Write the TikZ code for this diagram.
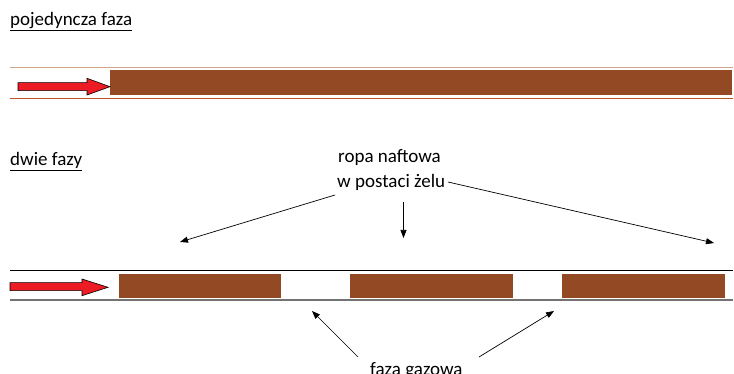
\documentclass[tikz,border=0pt]{standalone}
\usepackage{fontspec}
\setmainfont{Carlito}
\usetikzlibrary{arrows.meta}
\definecolor{oil}{RGB}{147,73,35}
\definecolor{oilpale}{RGB}{210,165,140}
\definecolor{oilline}{RGB}{185,85,35}
\definecolor{flowred}{RGB}{237,28,36}
\tikzset{
  lbl/.style={inner sep=0pt, anchor=base west, font=\fontsize{19}{22}\selectfont},
  flow/.style={fill=flowred, draw=black, line width=0.6pt, line join=miter},
  pointer/.style={-{Triangle[length=8pt,width=6pt]}, line width=0.7pt, black},
}
\begin{document}
\begin{tikzpicture}[x=1pt,y=-1pt]
\useasboundingbox (0,0) rectangle (734,374);

% --- single phase ---
\node[lbl] (t1) at (10,26) {\underline{pojedyncza faza}};
\draw[oilpale, line width=1.3pt] (10,67.5) -- (733,67.5);
\draw[oilline, line width=1.2pt] (10,98.3) -- (733,98.3);
\fill[oil] (110,70) rectangle (732,95);
\filldraw[flow] (18,82.7) -- (87,82.7) -- (87,78.3) -- (110,86.7) -- (87,95) -- (87,90.7) -- (18,90.7) -- cycle;

% --- two phases ---
\node[lbl] (t2) at (10,166) {\underline{dwie fazy}};
\draw[black, line width=1pt] (10,270.7) -- (733,270.7);
\draw[black!55, line width=1.6pt] (10,300) -- (733,300);
\fill[oil] (118.5,274) rectangle (281,298.5);
\fill[oil] (350,274) rectangle (512.5,298.5);
\fill[oil] (562,274) rectangle (725,298.5);
\filldraw[flow] (10,282.7) -- (82,282.7) -- (82,279) -- (108,287.3) -- (82,295.7) -- (82,290.7) -- (10,290.7) -- cycle;

% labels and pointers
\node[lbl] (oilA) at (338,163) {ropa naftowa};
\node[lbl] (oilB) at (337,188) {w postaci żelu};
\coordinate (oL0) at (335,195);
\coordinate (oL1) at (180,242);
\coordinate (oM0) at (403.5,202);
\coordinate (oM1) at (403.5,238);
\coordinate (oR0) at (448,182);
\coordinate (oR1) at (714,243);
\draw[pointer] (oL0) -- (oL1);
\draw[pointer] (oM0) -- (oM1);
\draw[pointer] (oR0) -- (oR1);

\node[lbl] (gas) at (370,375) {faza gazowa};
\coordinate (gL0) at (358,357);
\coordinate (gL1) at (312,311);
\coordinate (gR0) at (479,357);
\coordinate (gR1) at (554,311);
\draw[pointer] (gL0) -- (gL1);
\draw[pointer] (gR0) -- (gR1);
\end{tikzpicture}
\end{document}
